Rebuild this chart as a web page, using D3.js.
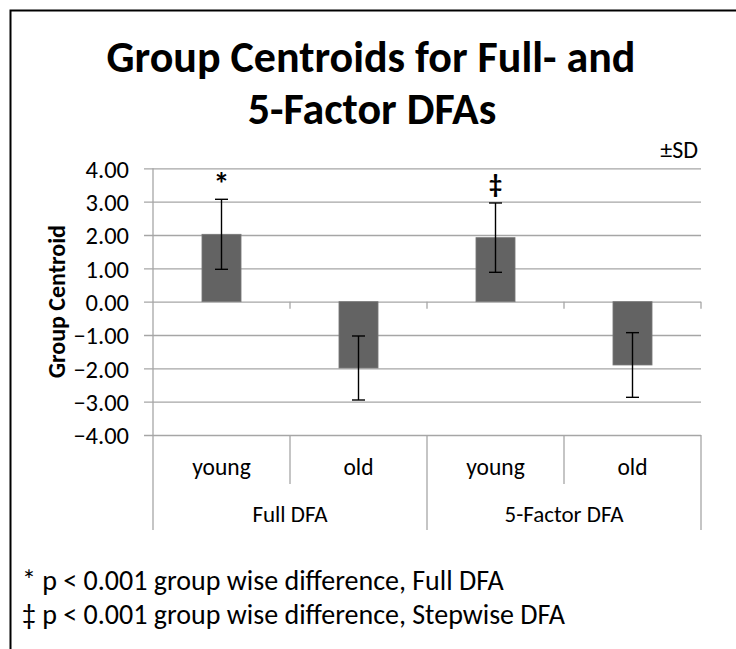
<!DOCTYPE html>
<html>
<head>
<meta charset="utf-8">
<script src="https://cdn.jsdelivr.net/npm/d3@7/dist/d3.min.js"></script>
<style>
  html, body { margin: 0; padding: 0; background: #fff; }
  svg { display: block; }
  text { font-family: Calibri, Carlito, Lato, "Open Sans", sans-serif; fill: #000; }
</style>
</head>
<body>
<svg id="chart" width="736" height="649"></svg>
<script>
// Group centroids (mean discriminant score) and their standard deviations
const groups = ["young", "old", "young", "old"];
const analyses = ["Full DFA", "5-Factor DFA"];
const centroids = [2.02, -1.99, 1.92, -1.90];
const sds = [1.05, 0.96, 1.04, 0.97];
const markers = ["*", "", "‡", ""];
const yTicks = [4, 3, 2, 1, 0, -1, -2, -3, -4];
const footnotes = [
  "* p < 0.001 group wise difference, Full DFA",
  "‡ p < 0.001 group wise difference, Stepwise DFA"
];

const svg = d3.select("#chart");
const gridColor = "#a6a6a6";

// chart frame
svg.append("path")
  .attr("d", "M10.5,649 L10.5,10.5 L736,10.5")
  .attr("fill", "none").attr("stroke", "#000").attr("stroke-width", 2);

// title
const title = svg.append("text")
  .attr("text-anchor", "middle")
  .attr("font-weight", "bold").attr("font-size", 44);
title.append("tspan").attr("x", 371).attr("y", 72).text("Group Centroids for Full- and");
title.append("tspan").attr("x", 372).attr("y", 124).text("5-Factor DFAs");

const keys = groups.map((g, i) => i);
const x = d3.scaleBand().domain(keys).range([153, 701]).padding(0);
const y = d3.scaleLinear().domain([-4, 4]).range([435, 168.3]);

// horizontal gridlines with left tick marks
const yAxis = d3.axisLeft(y)
  .tickValues(yTicks)
  .tickSize(-(701 - 153))
  .tickFormat(d3.format(".2f"));
const gy = svg.append("g").attr("transform", "translate(153,0)").call(yAxis);
gy.select(".domain").remove();
gy.selectAll(".tick line")
  .attr("x1", -9)
  .attr("stroke", gridColor).attr("stroke-width", 1.3);
gy.selectAll(".tick text")
  .attr("x", -24).attr("dy", "0.36em")
  .attr("font-size", 24.5)
  .attr("fill", "#000").attr("text-anchor", "end");

// vertical axis line, continuing into the category table
svg.append("line")
  .attr("x1", 153).attr("x2", 153).attr("y1", y(4)).attr("y2", 530)
  .attr("stroke", gridColor).attr("stroke-width", 1.3);

// ticks on the zero line
const bounds = d3.range(keys.length + 1).map(i => i < keys.length ? x(i) : x(keys.length - 1) + x.bandwidth());
svg.append("g").selectAll("line").data(bounds.slice(1)).join("line")
  .attr("x1", d => d).attr("x2", d => d)
  .attr("y1", y(0)).attr("y2", y(0) + 7)
  .attr("stroke", gridColor).attr("stroke-width", 1.3);

// category table separators
svg.append("g").selectAll("line").data(bounds.slice(1)).join("line")
  .attr("x1", d => d).attr("x2", d => d)
  .attr("y1", y(-4)).attr("y2", (d, i) => (i % 2 === 0) ? 484 : 530)
  .attr("stroke", gridColor).attr("stroke-width", 1.3);

// bars
const bw = x.bandwidth() * 0.285;
svg.append("g").selectAll("rect").data(centroids).join("rect")
  .attr("x", (d, i) => x(i) + (x.bandwidth() - bw) / 2)
  .attr("width", bw)
  .attr("y", d => y(Math.max(0, d)))
  .attr("height", d => Math.abs(y(d) - y(0)))
  .attr("fill", "#636363")
  .attr("stroke", "#7a7a7a").attr("stroke-width", 0.8);

// error bars (±SD)
const eb = svg.append("g").attr("stroke", "#000").attr("stroke-width", 1.4);
centroids.forEach((d, i) => {
  const cx = x(i) + x.bandwidth() / 2;
  const hi = y(d + sds[i]), lo = y(d - sds[i]);
  eb.append("line").attr("x1", cx).attr("x2", cx).attr("y1", hi).attr("y2", lo);
  eb.append("line").attr("x1", cx - 6.5).attr("x2", cx + 6.5).attr("y1", hi).attr("y2", hi);
  eb.append("line").attr("x1", cx - 6.5).attr("x2", cx + 6.5).attr("y1", lo).attr("y2", lo);
});

// significance markers above the young bars
svg.append("g").selectAll("text").data(centroids).join("text")
  .attr("x", (d, i) => x(i) + x.bandwidth() / 2)
  .attr("y", (d, i) => y(d + sds[i]) - (markers[i] === "*" ? 4 : 10))
  .attr("text-anchor", "middle")
  .attr("font-size", (d, i) => markers[i] === "*" ? 32 : 26)
  .attr("font-weight", "bold")
  .text((d, i) => markers[i]);

// group labels
svg.append("g").selectAll("text").data(groups).join("text")
  .attr("x", (d, i) => x(i) + x.bandwidth() / 2)
  .attr("y", 475)
  .attr("text-anchor", "middle").attr("font-size", 23.5)
  .text(d => d);

// analysis labels
svg.append("g").selectAll("text").data(analyses).join("text")
  .attr("x", (d, i) => x(i * 2) + x.bandwidth())
  .attr("y", 522)
  .attr("text-anchor", "middle").attr("font-size", 23)
  .text(d => d);

// axis title
svg.append("text")
  .attr("transform", `translate(65,${y(0)}) rotate(-90)`)
  .attr("text-anchor", "middle")
  .attr("font-size", 24).attr("font-weight", "bold")
  .text("Group Centroid");

// error bar note
svg.append("text")
  .attr("x", 698).attr("y", 158)
  .attr("text-anchor", "end").attr("font-size", 24)
  .text("±SD");

// footnotes
svg.append("g").selectAll("text").data(footnotes).join("text")
  .attr("x", 22)
  .attr("y", (d, i) => 590 + i * 34)
  .attr("font-size", 28)
  .text(d => d);
</script>
</body>
</html>
